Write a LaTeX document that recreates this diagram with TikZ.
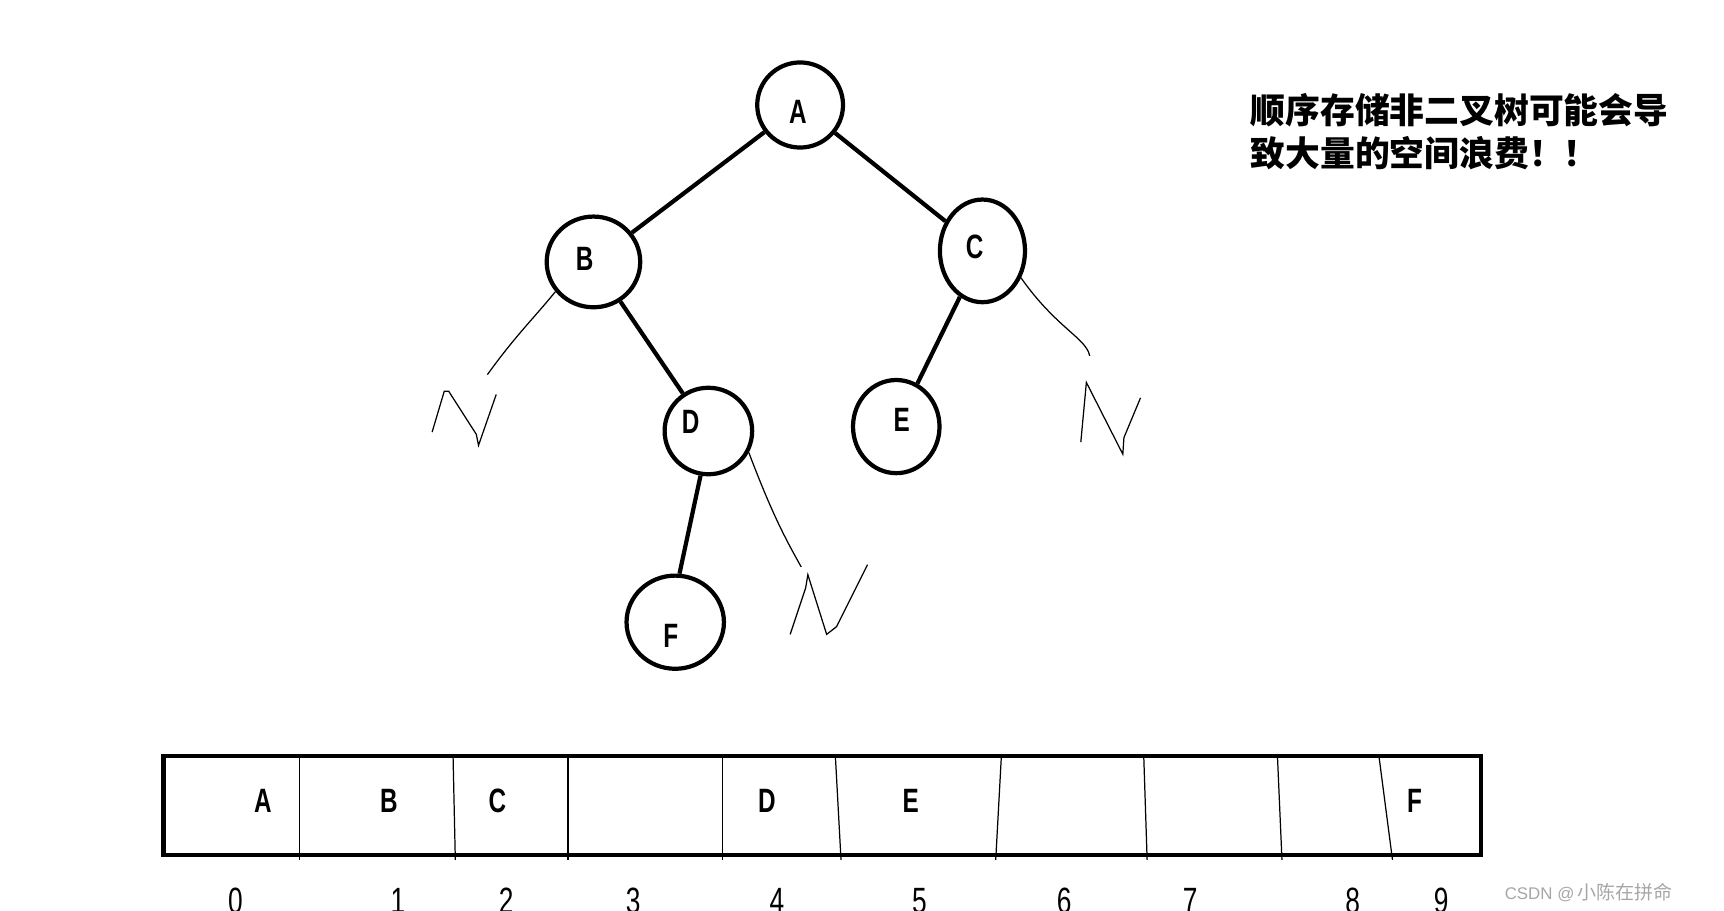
\documentclass[tikz,border=0pt]{standalone}
\usepackage{fontspec}
\setmainfont{Liberation Sans}
\newfontfamily\cjk{Noto Sans CJK SC}
\newfontfamily\narrow[FakeStretch=0.72]{Liberation Sans}
\usetikzlibrary{shapes.geometric}
\tikzset{
    vertex/.style={draw, ellipse, line width=1.2pt, inner sep=0pt},
    tag/.style={inner sep=0pt, font=\narrow\bfseries\fontsize{9.6}{10}\selectfont},
    edge/.style={line width=1.2pt},
    hand/.style={line width=0.35pt},
    cell/.style={inner sep=0pt, font=\narrow\bfseries\fontsize{9.6}{10}\selectfont},
    index/.style={inner sep=0pt, font=\narrow\fontsize{10.4}{11}\selectfont}
}
\begin{document}
\begin{tikzpicture}[x=0.01105cm, y=-0.01105cm]
    \useasboundingbox (0,0) rectangle (1560,824);
    % tree
    \node[vertex, minimum width=24.4pt, minimum height=24.2pt,
          label={[tag, shift={(-2,6)}]center:A}] (A) at (724,95) {};
    \node[vertex, minimum width=26.6pt, minimum height=25.8pt,
          label={[tag, shift={(-8,-3)}]center:B}] (B) at (537,237) {};
    \node[vertex, minimum width=24.2pt, minimum height=29.2pt,
          label={[tag, shift={(-7,-4)}]center:C}] (C) at (889,227) {};
    \node[vertex, minimum width=24.9pt, minimum height=24.6pt,
          label={[tag, shift={(-16,-8)}]center:D}] (D) at (641,390) {};
    \node[vertex, minimum width=24.6pt, minimum height=26.5pt,
          label={[tag, shift={(5,-6)}]center:E}] (E) at (811,386) {};
    \node[vertex, minimum width=27.7pt, minimum height=26.5pt,
          label={[tag, shift={(-4,12)}]center:F}] (F) at (611,563) {};
    \draw[edge] (A) -- (B);
    \draw[edge] (A) -- (C);
    \draw[edge] (B) -- (D);
    \draw[edge] (C) -- (E);
    \draw[edge] (D.260) -- (F.85);

    % empty children, drawn by hand
    \coordinate (nb) at (441,339);
    \coordinate (nc) at (986,322);
    \coordinate (nd) at (725,513);
    \draw[hand] (B.218) .. controls (483,288) and (467,303) .. (nb);
    \draw[hand] (391,391) -- (402,354) -- (406,354) -- (431,393) -- (433,403) -- (449,357);
    \draw[hand] (C.-35) .. controls (956,297) and (983,306) .. (nc);
    \draw[hand] (978,400) -- (982,357) -- (983,346) -- (1016,411) -- (1017,396) -- (1032,360);
    \draw[hand] (D.-28) .. controls (699,466) and (711,488) .. (nd);
    \draw[hand] (715,574) -- (729,532) -- (731,520) -- (748,574) -- (757,567) -- (785,511);

    % array
    \draw[line width=1.2pt] (148,684) rectangle (1340,774);
    \foreach \xa/\xb in {271/271, 410/412, 514/514, 654/654, 756/761,
                         906/901, 1035/1038, 1156/1160, 1248/1260}{
        \draw[hand] (\xa,686) -- (\xb,778);
    }
    \foreach \x/\t in {238/A, 352/B, 450/C, 694/D, 824/E, 1280/F}{
        \node[cell] (cell\t) at (\x,725) {\t};
    }
    \foreach \x [count=\i from 0] in {213,360,458,573,703,832,963,1077,1224,1304}{
        \node[index] (idx\i) at (\x,815) {\i};
    }

    % note
    \node[anchor=west, align=left, inner sep=0pt,
          font=\cjk\bfseries\fontsize{9.9}{12.3}\selectfont] (note) at (1131,119)
        {顺序存储非二叉树可能会导\\致大量的空间浪费！！};
    \node[anchor=west, inner sep=0pt, text=gray!70,
          font=\fontsize{4.8}{6}\selectfont] (mark) at (1361,808) {CSDN @\,{\cjk\fontsize{5.4}{6}\selectfont 小陈在拼命}};
\end{tikzpicture}
\end{document}
